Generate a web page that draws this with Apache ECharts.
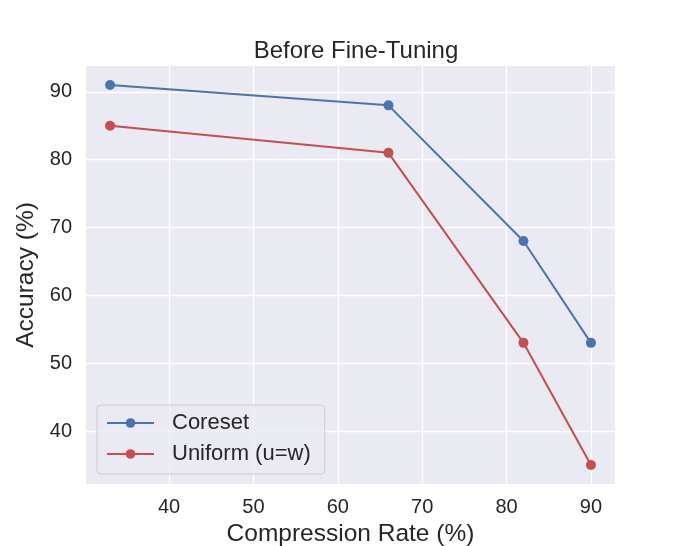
<!DOCTYPE html>
<html lang="en">
<head>
    <meta charset="UTF-8">
    <title>Before Fine-Tuning</title>
    <script src="https://cdn.jsdelivr.net/npm/echarts@6.0.0/dist/echarts.min.js"></script>
    <style>
        html, body { margin: 0; padding: 0; background: #fff; }
    </style>
</head>
<body>
    <div id="main" style="width: 685px;height:546px;"></div>
    <script type="text/javascript">
        // data
        const compression = [33, 66, 82, 90];
        const coreset = [91, 88, 68, 53];
        const uniform = [85, 81, 53, 35];
        const xTicks = [40, 50, 60, 70, 80, 90];
        const yTicks = [40, 50, 60, 70, 80, 90];

        const font = '"Liberation Sans", Arial, sans-serif';

        let myChart = echarts.init(document.getElementById('main'));

        const axisCommon = {
            axisLine: { show: false },
            splitLine: { show: true, lineStyle: { color: '#ffffff', width: 1.3 } }
        };

        let options = {
            backgroundColor: '#ffffff',
            animation: false,
            title: {
                text: 'Before Fine-Tuning',
                left: 351, top: 34, textAlign: 'center',
                textStyle: { fontFamily: font, fontSize: 24, fontWeight: 'normal', color: '#262626' }
            },
            grid: {
                left: 86, right: 70, top: 66, bottom: 62,
                outerBoundsMode: 'none', containLabel: false,
                show: true, backgroundColor: '#eaeaf2', borderWidth: 0
            },
            legend: {
                left: 97, top: 405, orient: 'vertical',
                padding: [7, 14, 9, 9], itemGap: 9,
                itemWidth: 47, itemHeight: 12,
                backgroundColor: 'rgba(234,234,242,0.8)',
                borderColor: '#cccccc', borderWidth: 1, borderRadius: 4,
                textStyle: { fontFamily: font, fontSize: 22, color: '#262626', padding: [0, 0, 0, 13] },
                data: ['Coreset', 'Uniform (u=w)']
            },
            xAxis: Object.assign({}, axisCommon, {
                type: 'value',
                min: 30.15, max: 92.85,
                name: 'Compression Rate (%)',
                nameLocation: 'middle', nameGap: 36,
                nameTextStyle: { fontFamily: font, fontSize: 24.5, color: '#262626' },
                axisTick: { show: false, customValues: xTicks },
                axisLabel: { customValues: xTicks, margin: 13, fontFamily: font, fontSize: 20, color: '#262626' }
            }),
            yAxis: Object.assign({}, axisCommon, {
                type: 'value',
                min: 32.2, max: 93.8,
                name: 'Accuracy (%)',
                nameLocation: 'middle', nameGap: 47,
                nameTextStyle: { fontFamily: font, fontSize: 24.5, color: '#262626' },
                axisTick: { show: false, customValues: yTicks },
                axisLabel: { customValues: yTicks, margin: 14, fontFamily: font, fontSize: 20, color: '#262626' }
            }),
            series: [
                {
                    name: 'Coreset', type: 'line',
                    data: compression.map((x, i) => [x, coreset[i]]),
                    color: '#4c72b0',
                    symbol: 'circle', symbolSize: 10,
                    lineStyle: { width: 2 }
                },
                {
                    name: 'Uniform (u=w)', type: 'line',
                    data: compression.map((x, i) => [x, uniform[i]]),
                    color: '#c44e52',
                    symbol: 'circle', symbolSize: 10,
                    lineStyle: { width: 2 }
                }
            ]
        };
        myChart.setOption(options);
    </script>
</body>
</html>
